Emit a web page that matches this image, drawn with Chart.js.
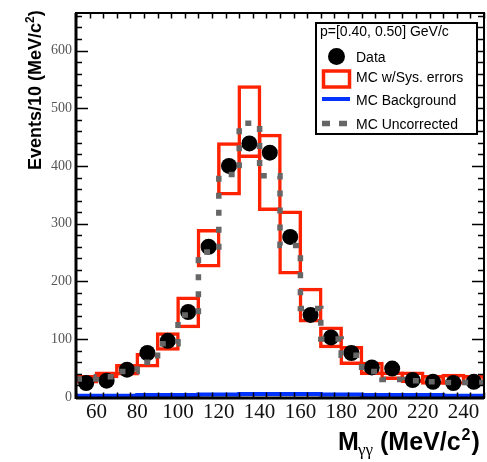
<!DOCTYPE html>
<html>
<head>
<meta charset="utf-8">
<script src="https://cdn.jsdelivr.net/npm/chart.js@4.4.0/dist/chart.umd.min.js"></script>
<style>
  html, body { margin: 0; padding: 0; background: #fff; overflow: hidden; }
  #wrap { position: relative; width: 492px; height: 462px; }
</style>
</head>
<body>
<div id="wrap"><canvas id="mgg" width="492" height="462"></canvas></div>
<script>
// bins of 10 MeV/c^2
const binEdges = [50, 60, 70, 80, 90, 100, 110, 120, 130, 140, 150, 160, 170, 180, 190, 200, 210, 220, 230, 240, 250];
const binCenters = [55, 65, 75, 85, 95, 105, 115, 125, 135, 145, 155, 165, 175, 185, 195, 205, 215, 225, 235, 245];

const dataCounts = [24, 28, 47, 76, 97, 147, 260, 400, 439, 423, 277, 142, 103, 76, 51, 49, 29, 26, 24, 26];
const mcSysLow  = [23, 32, 37, 51, 80, 119, 224, 349, 414, 322, 212, 129, 84, 55, 38, 29, 24, 21, 21, 20];
const mcSysHigh = [38, 44, 57, 76, 112, 174, 291, 441, 540, 456, 323, 189, 122, 88, 61, 44, 44, 38, 40, 38];
const mcUncorrected = [31, 35, 44, 60, 92, 142, 251, 385, 474, 383, 262, 153, 100, 72, 44, 30, 28, 26, 25, 25];
const mcBackground = [2, 2, 2, 3, 3, 3, 4, 4, 5, 5, 5, 5, 4, 4, 3, 3, 3, 3, 2, 2];

const xTicks = [60, 80, 100, 120, 140, 160, 180, 200, 220, 240];
const yTicks = [0, 100, 200, 300, 400, 500, 600];

const RED = '#ff2200';
const GRAY = '#666666';
const BLUE = '#0033ff';
const SANS = '"Liberation Sans", Arial, Helvetica, sans-serif';
const SERIF = '"Liberation Serif", "Times New Roman", serif';

function stepPoints(values) {
  const pts = values.map((v, i) => ({x: binEdges[i], y: v}));
  pts.push({x: binEdges[binEdges.length - 1], y: values[values.length - 1]});
  return pts;
}

// inside ticks, frame, axis titles and the legend box
const decor = {
  id: 'decor',
  afterDatasetsDraw(chart) {
    const ctx = chart.ctx;
    const {left, right, top, bottom} = chart.chartArea;
    const xs = chart.scales.x, ys = chart.scales.y;
    ctx.save();
    ctx.strokeStyle = '#000';
    ctx.lineWidth = 1.5;
    ctx.beginPath();
    for (let v = 50; v <= 250.01; v += 20 / 3) {
      const major = xTicks.some(t => Math.abs(t - v) < 0.01);
      const len = major ? 11 : 5.5;
      const px = Math.round(xs.getPixelForValue(v)) + 0.5;
      ctx.moveTo(px, bottom); ctx.lineTo(px, bottom - len);
      ctx.moveTo(px, top); ctx.lineTo(px, top + len);
    }
    for (let v = 0; v <= 660; v += 20) {
      const major = v % 100 === 0;
      const len = major ? 12 : 6;
      const py = Math.round(ys.getPixelForValue(v)) + 0.5;
      ctx.moveTo(left, py); ctx.lineTo(left + len, py);
      ctx.moveTo(right, py); ctx.lineTo(right - len, py);
    }
    ctx.stroke();
    ctx.lineWidth = 2;
    ctx.strokeRect(left, top, right - left, bottom - top);
    ctx.lineWidth = 3;
    ctx.beginPath();
    ctx.moveTo(left, top); ctx.lineTo(left, bottom + 1);
    ctx.moveTo(left, bottom); ctx.lineTo(right, bottom);
    ctx.stroke();

    // y title
    ctx.fillStyle = '#000';
    ctx.save();
    ctx.translate(41, 170);
    ctx.rotate(-Math.PI / 2);
    ctx.textBaseline = 'alphabetic';
    ctx.font = 'bold 18px ' + SANS;
    let s = 'Events/10 (MeV/c';
    ctx.fillText(s, 0, 0);
    let w = ctx.measureText(s).width;
    ctx.font = 'bold 12px ' + SANS;
    ctx.fillText('2', w, -7.5);
    w += ctx.measureText('2').width;
    ctx.font = 'bold 18px ' + SANS;
    ctx.fillText(')', w, 0);
    ctx.restore();

    // x title
    ctx.textBaseline = 'alphabetic';
    ctx.font = 'bold 25px ' + SANS;
    ctx.fillText('M', 338, 449.5);
    ctx.font = '17px ' + SERIF;
    ctx.fillText('\u03b3\u03b3', 358, 455);
    ctx.font = 'bold 25px ' + SANS;
    s = '(MeV/c';
    ctx.fillText(s, 380, 449.5);
    w = 380 + ctx.measureText(s).width;
    ctx.font = 'bold 16px ' + SANS;
    ctx.fillText('2', w + 1, 440);
    w += 1 + ctx.measureText('2').width;
    ctx.font = 'bold 25px ' + SANS;
    ctx.fillText(')', w + 1, 449.5);

    // legend
    const lx = 316, ly = 23, lw = 161, lh = 111;
    ctx.fillStyle = '#fff';
    ctx.fillRect(lx, ly, lw, lh);
    ctx.lineWidth = 2;
    ctx.strokeStyle = '#000';
    ctx.strokeRect(lx, ly, lw, lh);
    ctx.fillStyle = '#000';
    ctx.font = '14px ' + SANS;
    ctx.fillText('p=[0.40, 0.50] GeV/c', 320, 36);

    ctx.beginPath();
    ctx.arc(336.5, 56.5, 8.5, 0, Math.PI * 2);
    ctx.fill();
    ctx.fillText('Data', 356, 61.5);

    ctx.strokeStyle = RED;
    ctx.lineWidth = 3.5;
    ctx.strokeRect(323.5, 71, 26, 16);
    ctx.fillText('MC w/Sys. errors', 356, 81.5);

    ctx.strokeStyle = BLUE;
    ctx.lineWidth = 4;
    ctx.beginPath();
    ctx.moveTo(322, 99); ctx.lineTo(350, 99);
    ctx.stroke();
    ctx.fillText('MC Background', 356, 105);

    ctx.strokeStyle = GRAY;
    ctx.lineWidth = 5.5;
    ctx.setLineDash([8, 9]);
    ctx.beginPath();
    ctx.moveTo(322, 123.5); ctx.lineTo(349, 123.5);
    ctx.stroke();
    ctx.setLineDash([]);
    ctx.fillText('MC Uncorrected', 356, 129);
    ctx.restore();
  }
};

new Chart(document.getElementById('mgg'), {
  type: 'bar',
  data: {
    datasets: [
      {
        type: 'line',
        label: 'MC Uncorrected',
        data: stepPoints(mcUncorrected),
        stepped: 'before',
        borderColor: GRAY,
        borderWidth: 5.5,
        borderDash: [6, 11],
        pointRadius: 0,
        fill: false,
        order: 0
      },
      {
        type: 'line',
        label: 'Data',
        data: binCenters.map((x, i) => ({x: x, y: dataCounts[i]})),
        showLine: false,
        pointRadius: 8,
        pointHoverRadius: 8,
        pointBackgroundColor: '#000',
        pointBorderWidth: 0,
        borderColor: '#000',
        order: 1
      },
      {
        type: 'bar',
        label: 'MC w/Sys. errors',
        data: binCenters.map((x, i) => ({x: x, y: [mcSysLow[i], mcSysHigh[i]]})),
        backgroundColor: 'rgba(0,0,0,0)',
        borderColor: RED,
        borderWidth: 3.5,
        borderSkipped: false,
        barPercentage: 1.17,
        categoryPercentage: 1,
        order: 2
      },
      {
        type: 'line',
        label: 'MC Background',
        data: stepPoints(mcBackground),
        stepped: 'before',
        borderColor: BLUE,
        borderWidth: 4,
        pointRadius: 0,
        fill: false,
        order: 3
      }
    ]
  },
  options: {
    responsive: false,
    animation: false,
    events: [],
    layout: { padding: { top: 13, right: 2, bottom: 0, left: 0 } },
    plugins: { legend: { display: false }, tooltip: { enabled: false } },
    scales: {
      x: {
        type: 'linear',
        min: 50,
        max: 250,
        offset: false,
        grid: { display: false, drawTicks: false, offset: false },
        border: { display: false },
        afterBuildTicks: (scale) => { scale.ticks = xTicks.map(v => ({value: v})); },
        afterFit: (scale) => { scale.height = 64; },
        ticks: {
          autoSkip: false,
          maxRotation: 0,
          padding: 2,
          color: '#111',
          font: { family: SERIF, size: 21 }
        }
      },
      y: {
        type: 'linear',
        min: -2,
        max: 665,
        grid: { display: false, drawTicks: false },
        border: { display: false },
        afterBuildTicks: (scale) => { scale.ticks = yTicks.map(v => ({value: v})); },
        afterFit: (scale) => { scale.width = 76; },
        ticks: {
          autoSkip: false,
          padding: 4,
          color: '#555',
          font: { family: SERIF, size: 14 }
        }
      }
    }
  },
  plugins: [decor]
});
</script>
</body>
</html>
